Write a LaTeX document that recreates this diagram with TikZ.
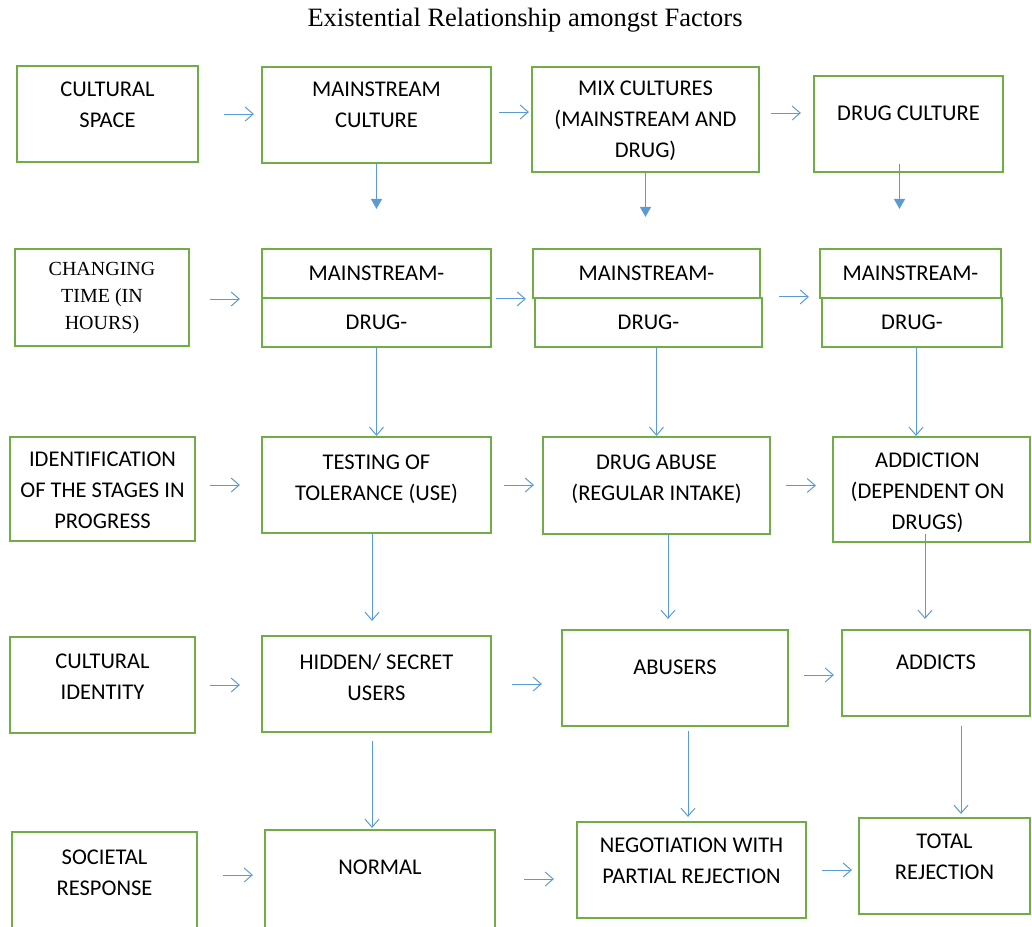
\documentclass[tikz,border=0pt]{standalone}
\usepackage{fontspec}
\setmainfont{Carlito}
\newfontfamily\titlefont{Liberation Serif}
\usepackage{tikz}
\usetikzlibrary{positioning}
\usetikzlibrary{arrows.meta}

\definecolor{boxgreen}{RGB}{112,173,71}
\definecolor{arrowblue}{RGB}{91,155,213}

\tikzset{
  box/.style={draw=boxgreen, line width=2.2pt, inner sep=0pt},
  lbl/.style={font=\fontsize{22.5}{31}\selectfont, align=center, inner sep=0pt},
  serlbl/.style={font=\titlefont\fontsize{20}{27}\selectfont, align=center, inner sep=0pt},
  flow/.style={draw=arrowblue, line width=1pt, -{Straight Barb[length=8pt,width=14pt]}},
  drop/.style={draw=arrowblue, line width=1.4pt, -{Triangle[length=10pt,width=11pt]}}
}

\begin{document}
\begin{tikzpicture}[x=1pt, y=-1pt]

  \useasboundingbox (0,0) rectangle (1032,926);

  \node[font=\titlefont\fontsize{26.5}{30}\selectfont] (title) at (525,20) {Existential Relationship amongst Factors};

  % first row
  \node[box, minimum width=181pt, minimum height=96pt] (cs) at (107.5,114) {};
  \node[lbl, below=17pt of cs.north] (cs-t) {CULTURAL\\SPACE};

  \node[box, minimum width=229pt, minimum height=96pt] (mc) at (376.5,115) {};
  \node[lbl, below=16pt of mc.north] (mc-t) {MAINSTREAM\\CULTURE};

  \node[box, minimum width=227pt, minimum height=105pt] (mix) at (645.5,119.5) {};
  \node[lbl, below=15pt of mix.north] (mix-t) {MIX CULTURES\\(MAINSTREAM AND\\DRUG)};

  \node[box, minimum width=189pt, minimum height=96pt] (dc) at (908.5,124) {};
  \node[lbl, below=31pt of dc.north] (dc-t) {DRUG CULTURE};

  % second row
  \node[box, minimum width=174pt, minimum height=97pt] (ct) at (102,297.5) {};
  \node[serlbl, below=14pt of ct.north] (ct-t) {CHANGING\\TIME (IN\\HOURS)};

  \node[box, lbl, minimum width=229pt, minimum height=49pt] (ms1) at (376.5,273.5) {MAINSTREAM-};
  \node[box, lbl, minimum width=229pt, minimum height=49pt] (dr1) at (376.5,322.5) {DRUG-};
  \node[box, lbl, minimum width=227pt, minimum height=49pt] (ms2) at (646.5,273.5) {MAINSTREAM-};
  \node[box, lbl, minimum width=227pt, minimum height=49pt] (dr2) at (648.5,322.5) {DRUG-};
  \node[box, lbl, minimum width=181pt, minimum height=49pt] (ms3) at (910.5,273.5) {MAINSTREAM-};
  \node[box, lbl, minimum width=180pt, minimum height=49pt] (dr3) at (912,322.5) {DRUG-};

  % third row
  \node[box, minimum width=185pt, minimum height=104pt] (id) at (102.5,489) {};
  \node[lbl, below=16pt of id.north] (id-t) {IDENTIFICATION\\OF THE STAGES IN\\PROGRESS};

  \node[box, minimum width=229pt, minimum height=96pt] (tt) at (376.5,485) {};
  \node[lbl, below=19pt of tt.north] (tt-t) {TESTING OF\\TOLERANCE (USE)};

  \node[box, minimum width=227pt, minimum height=97pt] (da) at (656.5,485.5) {};
  \node[lbl, below=19pt of da.north] (da-t) {DRUG ABUSE\\(REGULAR INTAKE)};

  \node[box, minimum width=197pt, minimum height=105pt] (ad) at (931.5,489.5) {};
  \node[lbl, below=17pt of ad.north, xshift=-4pt] (ad-t) {ADDICTION\\(DEPENDENT ON\\DRUGS)};

  % fourth row
  \node[box, minimum width=185pt, minimum height=96pt] (ci) at (102.5,685) {};
  \node[lbl, below=18pt of ci.north] (ci-t) {CULTURAL\\IDENTITY};

  \node[box, minimum width=229pt, minimum height=96pt] (hs) at (376.5,684) {};
  \node[lbl, below=19pt of hs.north] (hs-t) {HIDDEN/ SECRET\\USERS};

  \node[box, minimum width=226pt, minimum height=96pt] (ab) at (675,678) {};
  \node[lbl, below=31pt of ab.north] (ab-t) {ABUSERS};

  \node[box, minimum width=188pt, minimum height=86pt] (ads) at (936,673) {};
  \node[lbl, below=26pt of ads.north] (ads-t) {ADDICTS};

  % fifth row
  \node[box, minimum width=185pt, minimum height=103pt] (sr) at (104.5,883.5) {};
  \node[lbl, below=19pt of sr.north] (sr-t) {SOCIETAL\\RESPONSE};

  \node[box, minimum width=230pt, minimum height=105pt] (nm) at (380,882.5) {};
  \node[lbl, below=31pt of nm.north] (nm-t) {NORMAL};

  \node[box, minimum width=229pt, minimum height=96pt] (ng) at (691.5,870) {};
  \node[lbl, below=17pt of ng.north] (ng-t) {NEGOTIATION WITH\\PARTIAL REJECTION};

  \node[box, minimum width=171pt, minimum height=96pt] (tr) at (944.5,866) {};
  \node[lbl, below=17pt of tr.north] (tr-t) {TOTAL\\REJECTION};

  % across
  \draw[flow, shorten <=25pt, shorten >=7pt] (cs.east) -- (cs.east -| mc.west);
  \draw[flow, shorten <=7pt, shorten >=2pt] ([yshift=3pt]mc.east) -- ([yshift=3pt]mc.east -| mix.west);
  \draw[flow, shorten <=11pt, shorten >=12pt] ([yshift=6.5pt]mix.east) -- ([yshift=6.5pt]mix.east -| dc.west);

  \draw[flow, shorten <=20pt, shorten >=21pt] ([yshift=-1.5pt]ct.east) -- ([yshift=-1.5pt]ct.east -| dr1.west);
  \draw[flow, shorten <=4pt, shorten >=8pt] ([yshift=-2pt]dr1.north east) -- ([yshift=-2pt]dr1.north east -| dr2.north west);
  \draw[flow, shorten <=16pt, shorten >=12pt] (dr2.north east) -- (dr2.north east -| dr3.north west);

  \draw[flow, shorten <=14pt, shorten >=21pt] ([yshift=4pt]id.east) -- ([yshift=4pt]id.east -| tt.west);
  \draw[flow, shorten <=12pt, shorten >=8pt] (tt.east) -- (tt.east -| da.west);
  \draw[flow, shorten <=15pt, shorten >=16pt] (da.east) -- (da.east -| ad.west);

  \draw[flow, shorten <=14pt, shorten >=21pt] (ci.east) -- (ci.east -| hs.west);
  \draw[flow, shorten <=20pt, shorten >=19pt] (hs.east) -- (hs.east -| ab.west);
  \draw[flow, shorten <=15pt, shorten >=7pt] ([yshift=3pt]ab.east) -- ([yshift=3pt]ab.east -| ads.west);

  \draw[flow, shorten <=25pt, shorten >=11pt] ([yshift=8.5pt]sr.east) -- ([yshift=8.5pt]sr.east -| nm.west);
  \draw[flow, shorten <=28pt, shorten >=22pt] ([yshift=3.5pt]nm.east) -- ([yshift=3.5pt]nm.east -| ng.west);
  \draw[flow, shorten <=15pt, shorten >=6pt] (ng.east) -- (ng.east -| tr.west);

  % down
  \draw[drop, shorten >=39pt] (mc.south) -- (ms1.north);
  \draw[drop, shorten >=31pt] (mix.south) -- (mix.south |- ms2.north);
  \draw[drop, shorten <=-9pt, shorten >=39pt] ([xshift=-9pt]dc.south) -- ([xshift=-9pt]dc.south |- ms3.north);

  \draw[flow] (dr1.south) -- (tt.north);
  \draw[flow] (da.north |- dr2.south) -- (da.north);
  \draw[flow] ([xshift=4pt]dr3.south) -- ([xshift=4pt]dr3.south |- ad.north);

  \draw[flow, shorten >=14pt] ([xshift=-4.5pt]tt.south) -- ([xshift=-4.5pt]tt.south |- hs.north);
  \draw[flow, shorten >=10pt] ([xshift=11.5pt]da.south) -- ([xshift=11.5pt]da.south |- ab.north);
  \draw[flow, shorten <=-9pt, shorten >=10pt] ([xshift=-6.5pt]ad.south) -- ([xshift=-6.5pt]ad.south |- ads.north);

  \draw[flow, shorten <=8pt, shorten >=1pt] ([xshift=-4.5pt]hs.south) -- ([xshift=-4.5pt]hs.south |- nm.north);
  \draw[flow, shorten <=4pt, shorten >=4pt] ([xshift=13pt]ab.south) -- ([xshift=13pt]ab.south |- ng.north);
  \draw[flow, shorten <=9pt, shorten >=3pt] ([xshift=25pt]ads.south) -- ([xshift=25pt]ads.south |- tr.north);

\end{tikzpicture}
\end{document}
